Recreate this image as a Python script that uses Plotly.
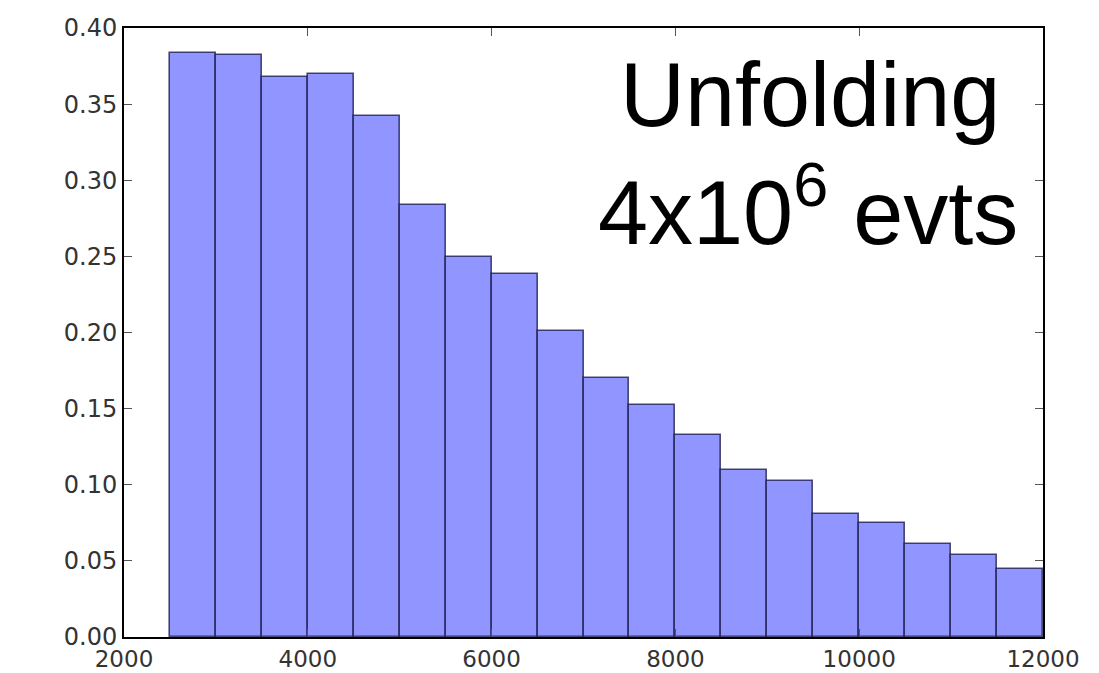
import plotly.graph_objects as go

bin_edges = [2500, 3000, 3500, 4000, 4500, 5000, 5500, 6000, 6500, 7000, 7500,
             8000, 8500, 9000, 9500, 10000, 10500, 11000, 11500, 12000]
values = [0.3835, 0.382, 0.3675, 0.3697, 0.342, 0.284, 0.2495, 0.2386, 0.2008,
          0.1704, 0.1523, 0.1327, 0.1094, 0.1022, 0.0806, 0.0752, 0.0608, 0.0538, 0.0447]
x_ticks = [2000, 4000, 6000, 8000, 10000, 12000]
y_ticks = [0.00, 0.05, 0.10, 0.15, 0.20, 0.25, 0.30, 0.35, 0.40]

centers = [(a + b) / 2 for a, b in zip(bin_edges[:-1], bin_edges[1:])]
widths = [b - a for a, b in zip(bin_edges[:-1], bin_edges[1:])]

fig = go.Figure()
fig.add_trace(go.Bar(
    x=centers, y=values, width=widths,
    marker=dict(color="rgb(144,149,255)",
                line=dict(color="rgba(20,20,70,0.75)", width=1.6)),
    showlegend=False, hoverinfo="x+y",
))

axis_common = dict(
    showline=True, linecolor="black", linewidth=2, mirror="ticks",
    ticks="inside", ticklen=8, tickwidth=1.2, tickcolor="#555",
    showgrid=False, zeroline=False, automargin=False,
)

fig.update_layout(
    width=1099, height=673,
    margin=dict(l=124, r=56, t=28, b=36),
    plot_bgcolor="white", paper_bgcolor="white",
    bargap=0,
    xaxis=dict(range=[2000, 12000], tickvals=x_ticks,
               ticktext=[str(v) for v in x_ticks],
               tickfont=dict(family="DejaVu Sans", size=23, color="#333"),
               **axis_common),
    yaxis=dict(range=[0, 0.4], tickvals=y_ticks,
               ticktext=[f"{v:.2f}" for v in y_ticks],
               tickfont=dict(family="DejaVu Sans", size=24, color="#333"),
               **axis_common),
)

fig.add_annotation(
    text="Unfolding", xref="paper", yref="paper",
    x=(810 - 124) / 919, y=1 - (95 - 28) / 609,
    xanchor="center", yanchor="middle", showarrow=False,
    font=dict(family="Liberation Sans", size=90, color="black"),
)
fig.add_annotation(
    text="4x10<sup>6</sup> evts", xref="paper", yref="paper",
    x=(808 - 124) / 919, y=1 - (206 - 28) / 609,
    xanchor="center", yanchor="middle", showarrow=False,
    font=dict(family="Liberation Sans", size=90, color="black"),
)

fig.write_html("out.html")
